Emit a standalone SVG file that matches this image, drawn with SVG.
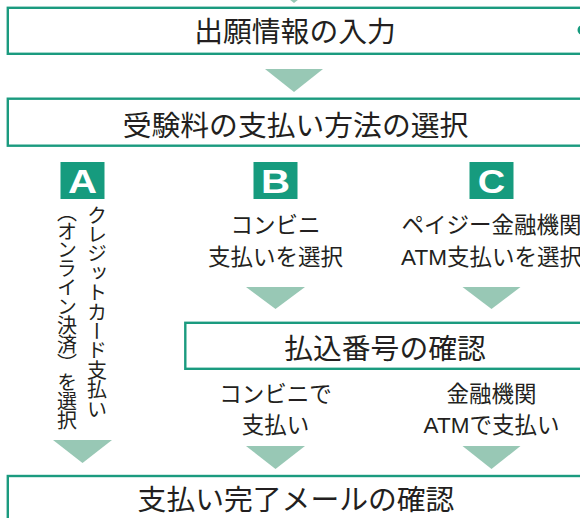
<svg xmlns="http://www.w3.org/2000/svg" width="580" height="518" viewBox="0 0 580 518">
<style>
.box{fill:#fff;stroke:#1b9b7f;stroke-width:2.4}
.tri{fill:#98c8b5}
.badge{fill:#169b7e}
.t{font-family:"Noto Sans CJK JP","Noto Sans",sans-serif;fill:#231f20;text-anchor:middle}
.big{font-size:28.8px}
.mid{font-size:22.5px}
.v{font-size:20px;writing-mode:vertical-rl;text-anchor:start}
.lat{font-family:"Liberation Sans",Arial,sans-serif}
.bl{font-family:"Liberation Sans",Arial,sans-serif;font-weight:bold;font-size:33px;fill:#fff;text-anchor:middle}
</style>
<rect width="580" height="518" fill="#fff"/>
<g id="connectors">
<polygon class="tri" points="265,-20 323,-20 294,3"/>
<polygon class="tri" points="265,69 323,69 294,92"/>
<polygon class="tri" points="53,440 112,440 82.5,463"/>
<polygon class="tri" points="246,287 305,287 275.5,309"/>
<polygon class="tri" points="462.5,287 520.5,287 491.5,309"/>
<polygon class="tri" points="246,446 305,446 275.5,469"/>
<polygon class="tri" points="462.5,446 520.5,446 491.5,469"/>
</g>
<g id="n1">
<rect class="box" x="7.8" y="7.8" width="600" height="46"/>
<text class="t big" x="295" y="42">出願情報の入力</text>
<circle cx="582.5" cy="30" r="5" fill="#169b7e"/>
</g>
<g id="n2">
<rect class="box" x="7.8" y="98.7" width="600" height="47"/>
<text class="t big" x="295.5" y="135.5">受験料の支払い方法の選択</text>
</g>
<g id="nA">
<rect class="badge" x="60.5" y="162" width="44" height="37"/>
<text class="bl" transform="translate(82.5,193) scale(1.22,1)">A</text>
<text class="t v" x="97" y="205" letter-spacing="-0.6">クレジットカード支払い</text>
<text class="t v" x="67" y="202" letter-spacing="-1.1">（オンライン決済）を選択</text>
</g>
<g id="nB">
<rect class="badge" x="253.5" y="162" width="44" height="37"/>
<text class="bl" transform="translate(275.5,193) scale(1.22,1)">B</text>
<text class="t mid" x="275.5" y="233">コンビニ</text>
<text class="t mid" x="275.5" y="265">支払いを選択</text>
</g>
<g id="nC">
<rect class="badge" x="469.5" y="162" width="44" height="37"/>
<text class="bl" transform="translate(491.5,193) scale(1.15,1)">C</text>
<text class="t mid" x="491.5" y="233">ペイジー金融機関</text>
<text class="t mid" x="491.5" y="265"><tspan class="lat">ATM</tspan>支払いを選択</text>
</g>
<g id="n3">
<rect class="box" x="185.3" y="322.8" width="420" height="46"/>
<text class="t big" x="385" y="358.5">払込番号の確認</text>
</g>
<g id="nB2">
<text class="t mid" x="275.5" y="402">コンビニで</text>
<text class="t mid" x="275.5" y="433">支払い</text>
</g>
<g id="nC2">
<text class="t mid" x="491.5" y="402">金融機関</text>
<text class="t mid" x="491.5" y="433"><tspan class="lat">ATM</tspan>で支払い</text>
</g>
<g id="n4">
<rect class="box" x="7.8" y="476" width="600" height="60"/>
<text class="t big" x="296" y="510">支払い完了メールの確認</text>
</g>
</svg>
